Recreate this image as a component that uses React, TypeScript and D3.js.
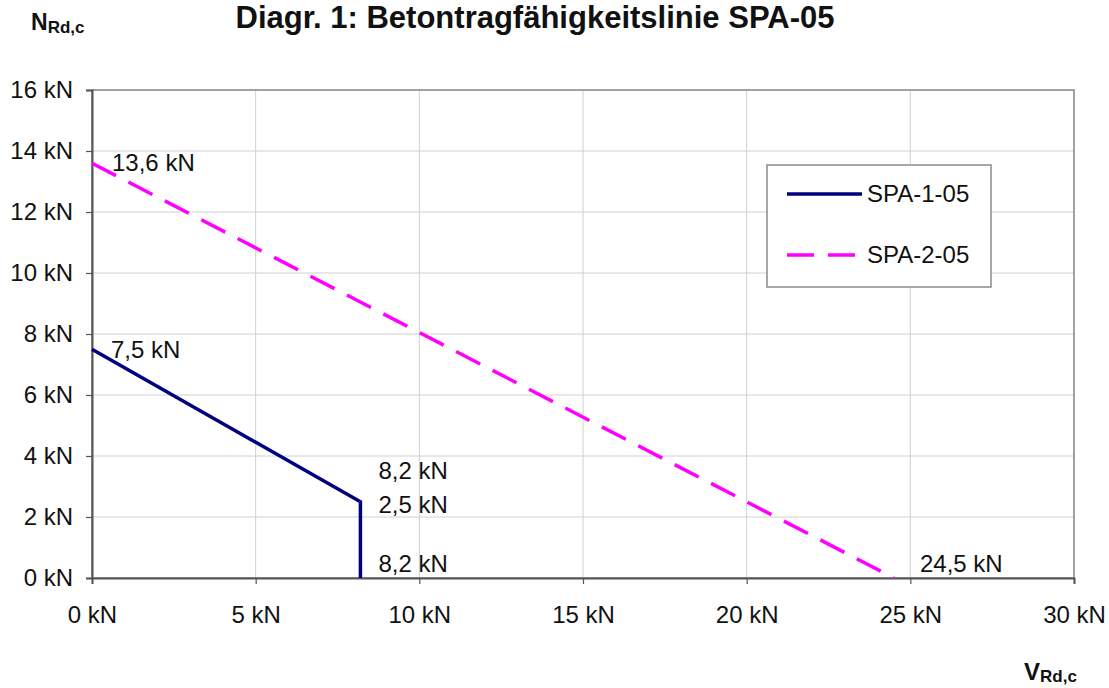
import * as d3 from "d3"
import { useEffect, useRef } from "react"

// Data
const spa1V = [0, 8.2, 8.2]
const spa1N = [7.5, 2.5, 0]
const spa2V = [0, 24.5]
const spa2N = [13.6, 0]
const xTicks = [0, 5, 10, 15, 20, 25, 30]
const yTicks = [0, 2, 4, 6, 8, 10, 12, 14, 16]
const seriesNames = ["SPA-1-05", "SPA-2-05"]
// value labels anchored at data points
const labelV = [0, 0, 8.2, 8.2, 8.2, 24.5]
const labelN = [13.6, 7.5, 2.5, 2.5, 0, 0]
const labelText = ["13,6 kN", "7,5 kN", "8,2 kN", "2,5 kN", "8,2 kN", "24,5 kN"]

const W = 1109
const H = 688
const FONT = "'Liberation Sans', Arial, sans-serif"

const App = () => {
  const svgRef = useRef<SVGSVGElement | null>(null)

  useEffect(() => {
    if (!svgRef.current) return
    const svg = d3.select(svgRef.current)
    svg.selectAll("*").remove()

    const left = 92
    const right = 1074
    const top = 90
    const bottom = 578

    const x = d3.scaleLinear().domain([0, 30]).range([left, right])
    const y = d3.scaleLinear().domain([0, 16]).range([bottom, top])

    svg.append("rect").attr("width", W).attr("height", H).attr("fill", "white")

    // gridlines
    const grid = svg.append("g")
    grid
      .selectAll("line.v")
      .data(xTicks.slice(1))
      .enter()
      .append("line")
      .attr("x1", d => x(d))
      .attr("x2", d => x(d))
      .attr("y1", top)
      .attr("y2", bottom)
      .attr("stroke", "#d0d0d0")
      .attr("stroke-width", 1)
    grid
      .selectAll("line.h")
      .data(yTicks.slice(1))
      .enter()
      .append("line")
      .attr("x1", left)
      .attr("x2", right)
      .attr("y1", d => y(d))
      .attr("y2", d => y(d))
      .attr("stroke", "#d0d0d0")
      .attr("stroke-width", 1)

    // plot area border
    svg
      .append("rect")
      .attr("x", left)
      .attr("y", top)
      .attr("width", right - left)
      .attr("height", bottom - top)
      .attr("fill", "none")
      .attr("stroke", "#8a8a8a")
      .attr("stroke-width", 1.5)

    // axes
    const yAxis = d3
      .axisLeft(y)
      .tickValues(yTicks)
      .tickSize(6)
      .tickPadding(13)
      .tickFormat(d => `${d} kN`)
    const gy = svg.append("g").attr("transform", `translate(${left},0)`).call(yAxis)
    const xAxis = d3
      .axisBottom(x)
      .tickValues(xTicks)
      .tickSize(6)
      .tickPadding(22)
      .tickFormat(d => `${d} kN`)
    const gx = svg.append("g").attr("transform", `translate(0,${bottom})`).call(xAxis)
    ;[gx, gy].forEach(g => {
      g.select(".domain").attr("stroke", "#555").attr("stroke-width", 2)
      g.selectAll(".tick line").attr("stroke", "#555").attr("stroke-width", 1.2)
      g.selectAll(".tick text")
        .attr("fill", "#111")
        .style("font-family", FONT)
        .style("font-size", "24px")
    })

    const line = d3
      .line<[number, number]>()
      .x(d => x(d[0]))
      .y(d => y(d[1]))

    svg
      .append("path")
      .datum(spa2V.map((v, i) => [v, spa2N[i]] as [number, number]))
      .attr("d", line)
      .attr("fill", "none")
      .attr("stroke", "#ff00ff")
      .attr("stroke-width", 3.5)
      .attr("stroke-dasharray", "27,14")

    svg
      .append("path")
      .datum(spa1V.map((v, i) => [v, spa1N[i]] as [number, number]))
      .attr("d", line)
      .attr("fill", "none")
      .attr("stroke", "#000080")
      .attr("stroke-width", 3.5)

    // value labels (pixel offsets from their points)
    const offsets = [
      [20, 8],
      [19, 9],
      [18, -23],
      [18, 11],
      [18, -6],
      [26, -6]
    ]
    svg
      .selectAll("text.lbl")
      .data(labelText)
      .enter()
      .append("text")
      .attr("x", (_d, i) => x(labelV[i]) + offsets[i][0])
      .attr("y", (_d, i) => y(labelN[i]) + offsets[i][1])
      .style("font-family", FONT)
      .style("font-size", "24px")
      .attr("fill", "#111")
      .text(d => d)

    // legend
    const lg = svg.append("g").attr("transform", "translate(767,165)")
    lg.append("rect")
      .attr("width", 224)
      .attr("height", 122)
      .attr("fill", "white")
      .attr("stroke", "#8a8a8a")
      .attr("stroke-width", 1.5)
    const styles = [
      { color: "#000080", dash: "none" },
      { color: "#ff00ff", dash: "27,14" }
    ]
    seriesNames.forEach((name, i) => {
      const ly = 29 + i * 61
      lg.append("line")
        .attr("x1", 20)
        .attr("x2", 95)
        .attr("y1", ly)
        .attr("y2", ly)
        .attr("stroke", styles[i].color)
        .attr("stroke-width", 3.5)
        .attr("stroke-dasharray", styles[i].dash)
      lg.append("text")
        .attr("x", 100)
        .attr("y", ly + 8)
        .style("font-family", FONT)
        .style("font-size", "24px")
        .attr("fill", "#111")
        .text(name)
    })

    // title
    svg
      .append("text")
      .attr("x", 535)
      .attr("y", 28)
      .attr("text-anchor", "middle")
      .style("font-family", FONT)
      .style("font-size", "31px")
      .style("font-weight", "bold")
      .attr("fill", "#111")
      .text("Diagr. 1: Betontragfähigkeitslinie SPA-05")

    // axis titles with subscripts
    const nLab = svg
      .append("text")
      .attr("x", 31)
      .attr("y", 30)
      .style("font-family", FONT)
      .style("font-weight", "bold")
      .style("font-size", "23px")
      .attr("fill", "#111")
    nLab.append("tspan").text("N")
    nLab.append("tspan").attr("dy", 3).style("font-size", "17px").text("Rd,c")

    const vLab = svg
      .append("text")
      .attr("x", 1024)
      .attr("y", 680)
      .style("font-family", FONT)
      .style("font-weight", "bold")
      .style("font-size", "24px")
      .attr("fill", "#111")
    vLab.append("tspan").text("V")
    vLab.append("tspan").attr("dy", 2).style("font-size", "17px").text("Rd,c")
  }, [])

  return (
    <div style={{ position: "absolute", left: 0, top: 0, width: W, height: H }}>
      <svg ref={svgRef} width={W} height={H} style={{ display: "block" }} />
    </div>
  )
}

export default App
